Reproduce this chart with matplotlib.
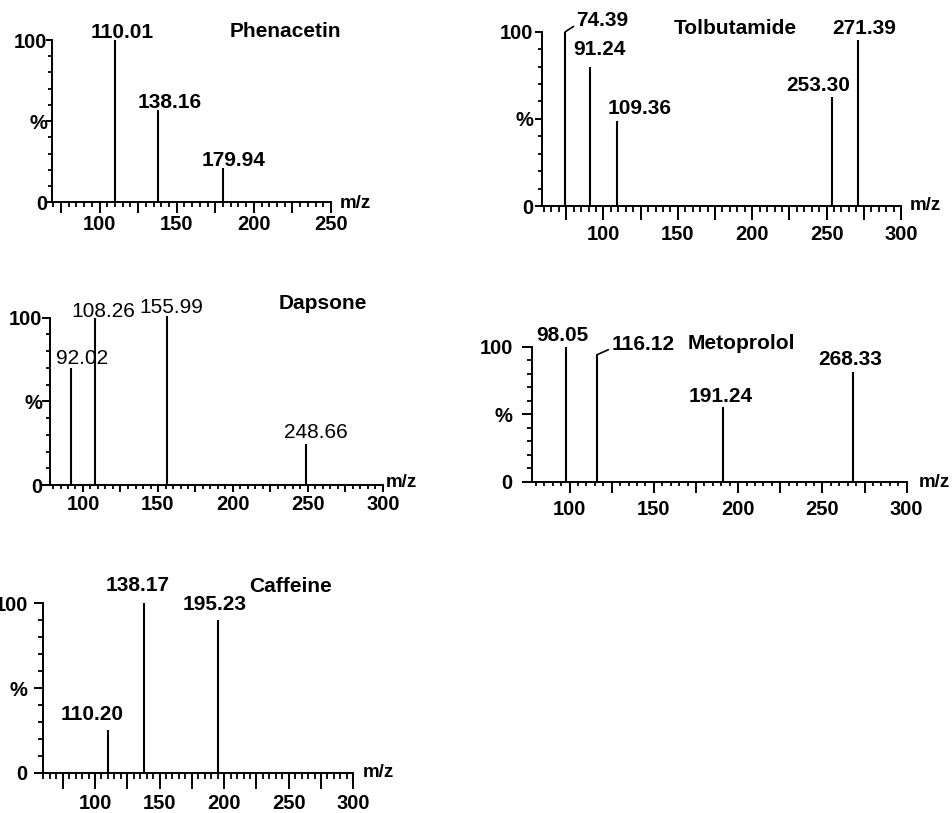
import matplotlib
matplotlib.use('Agg')
import matplotlib.pyplot as plt
from matplotlib.ticker import MultipleLocator, FuncFormatter

W, H = 952, 813
plt.rcParams['font.family'] = ['Liberation Sans', 'DejaVu Sans']

# ---------------- data ----------------
phen_mz = [110.01, 138.16, 179.94]
phen_int = [100, 57, 21]

tolb_mz = [74.39, 91.24, 109.36, 253.30, 271.39]
tolb_int = [100, 80, 48.5, 62.5, 95]

daps_mz = [92.02, 108.26, 155.99, 248.66]
daps_int = [70, 100, 101, 24.5]

meto_mz = [98.05, 116.12, 191.24, 268.33]
meto_int = [100, 94, 55, 81.5]

caff_mz = [110.20, 138.17, 195.23]
caff_int = [25, 100, 90]

y_ticks = [0, 50, 100]
y_ticklabels = ['0', '%', '100']

# ---------------- layout / style ----------------
PX = 0.72  # points per pixel at dpi 100

panels = [
    dict(name='Phenacetin', mz=phen_mz, inten=phen_int, xlim=(69, 250),
         box=(51.7, 40, 331, 202.3),
         offs=[(7.7, 1.7), (10.8, 2), (11, 2)], leader={},
         title=(285.8, 36.7), mzlab=(340, 203), lw='bold',
         xt=(11, 5, 1.5), yt=(6, 4, -1.5)),
    dict(name='Tolbutamide', mz=tolb_mz, inten=tolb_int, xlim=(58.5, 300),
         box=(541.7, 31.7, 901, 206),
         offs=[(11, 5.7), (9.5, 11.7), (22, 7.7), (-13, 5.7), (6, 6.3)],
         leader={0: True},
         title=(735, 34.3), mzlab=(910, 206), lw='bold',
         xt=(14, 5.7, 5), yt=(6.7, 4, 2)),
    dict(name='Dapsone', mz=daps_mz, inten=daps_int, xlim=(78, 300),
         box=(50, 317.7, 383, 485),
         offs=[(10.7, 3.4), (8, 1), (4.5, 3), (10, 5.7)], leader={},
         title=(322.5, 309), mzlab=(386, 482), lw='normal',
         xt=(7, 3.5, 3), yt=(8, 4, 0)),
    dict(name='Metoprolol', mz=meto_mz, inten=meto_int, xlim=(77.5, 300),
         box=(531.7, 346.7, 906.7, 481.7),
         offs=[(-4, 6), (14.4, 5), (-3, 5.6), (-3, 6.7)], leader={1: True},
         title=(741.7, 349.3), mzlab=(919, 482.5), lw='bold',
         xt=(11, 4, 7), yt=(10, 5, 9)),
    dict(name='Caffeine', mz=caff_mz, inten=caff_int, xlim=(59.5, 300),
         box=(42.7, 603.3, 353.3, 772.7),
         offs=[(-16, 10.7), (-7, 12.7), (-3, 10.7)], leader={},
         title=(290.8, 591.7), mzlab=(363, 772), lw='bold',
         xt=(16, 6, 5.5), yt=(9, 5, 6)),
]

FS = 15
FS_TICK = 14.5
FS_MZ = 13.5
LINE_W = 1.5

fig = plt.figure(figsize=(W / 100, H / 100), dpi=100)


def fx(x):
    return x / W


def fy(y):
    return 1 - y / H


def xfmt(v, pos):
    return f'{v:.0f}' if abs(v % 50) < 1e-6 else ''


for p in panels:
    l, t, r, b = p['box']
    ax = fig.add_axes([fx(l), fy(b), (r - l) / W, (b - t) / H])
    ax.set_xlim(*p['xlim'])
    ax.set_ylim(0, 100)
    for s in ('top', 'right'):
        ax.spines[s].set_visible(False)
    for s in ('left', 'bottom'):
        ax.spines[s].set_linewidth(1.4)
    ax.patch.set_alpha(0)

    ax.vlines(p['mz'], 0, p['inten'], colors='black', lw=LINE_W, clip_on=False)

    ax.xaxis.set_major_locator(MultipleLocator(25))
    ax.xaxis.set_minor_locator(MultipleLocator(5))
    ax.xaxis.set_major_formatter(FuncFormatter(xfmt))
    ax.set_yticks(y_ticks)
    ax.set_yticklabels(y_ticklabels)
    ax.yaxis.set_minor_locator(MultipleLocator(10))

    xmaj, xmin, xpad = p['xt']
    ymaj, ymin, ypad = p['yt']
    ax.tick_params(axis='x', which='major', direction='out', length=xmaj * PX,
                   width=1.4, pad=xpad * PX, labelsize=FS_TICK)
    ax.tick_params(axis='x', which='minor', direction='out', length=xmin * PX, width=1.3)
    ax.tick_params(axis='y', which='major', direction='out', length=ymaj * PX,
                   width=1.4, pad=ypad * PX, labelsize=FS_TICK)
    ax.tick_params(axis='y', which='minor', direction='out', length=ymin * PX, width=1.3)
    for lab in ax.get_xticklabels() + ax.get_yticklabels():
        lab.set_fontweight('bold')

    for i, (m, v) in enumerate(zip(p['mz'], p['inten'])):
        dx, dy = p['offs'][i]
        txt = f'{m:.2f}'
        if p['leader'].get(i):
            ax.annotate(txt, xy=(m, v), xytext=(dx, dy), textcoords='offset pixels',
                        ha='left', va='baseline', fontsize=FS, fontweight=p['lw'],
                        annotation_clip=False,
                        arrowprops=dict(arrowstyle='-', lw=1.2, color='black',
                                        shrinkA=0, shrinkB=0, relpos=(0, 0.28)))
        else:
            ax.annotate(txt, xy=(m, v), xytext=(dx, dy), textcoords='offset pixels',
                        ha='center', va='baseline', fontsize=FS, fontweight=p['lw'],
                        annotation_clip=False)

    tx, ty = p['title']
    fig.text(fx(tx), fy(ty), p['name'], ha='center', va='baseline',
             fontsize=FS, fontweight='bold')
    mx, my = p['mzlab']
    fig.text(fx(mx), fy(my), 'm/z', ha='left', va='center',
             fontsize=FS_MZ, fontweight='bold')

fig.savefig('out.png', dpi=100)
